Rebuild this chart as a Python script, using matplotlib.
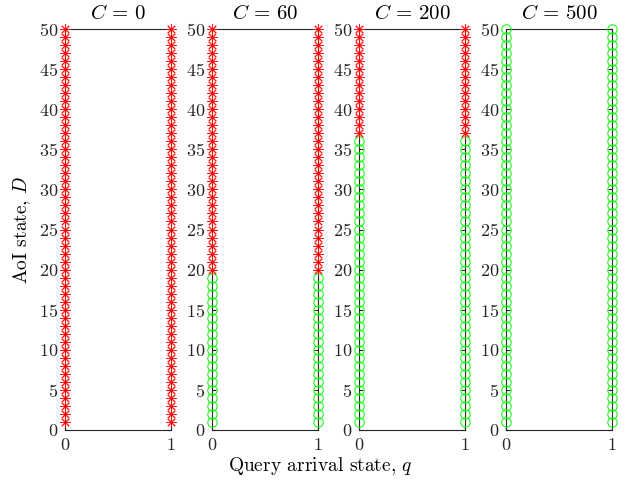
import numpy as np
import matplotlib.pyplot as plt

plt.rcParams["font.family"] = "serif"
plt.rcParams["font.serif"] = ["cmr10", "DejaVu Serif"]
plt.rcParams["mathtext.fontset"] = "cm"
plt.rcParams["axes.formatter.use_mathtext"] = True

# cost values of the four panels
c_values = [0, 60, 200, 500]
# smallest AoI state at which an update is sent (51 = never)
update_from = [1, 20, 37, 51]
aoi_states = np.arange(1, 51)
query_states = [0, 1]

fig = plt.figure(figsize=(6.41, 4.82), dpi=100)
lefts = [65, 212, 359, 506]
axes = []
for i, (c, thr) in enumerate(zip(c_values, update_from)):
    ax = fig.add_axes([lefts[i] / 641, 52 / 482, 106 / 641, 401 / 482])
    axes.append(ax)
    for q in query_states:
        wait = aoi_states[aoi_states < thr]
        upd = aoi_states[aoi_states >= thr]
        ax.plot(np.full(len(wait), q), wait, linestyle="none", marker="o",
                markersize=6.8, markerfacecolor="none", markeredgecolor=(0, 1, 0),
                markeredgewidth=0.7, clip_on=False, zorder=3)
        ax.plot(np.full(len(upd), q), upd, linestyle="none", marker=(8, 2, 0),
                markersize=7.5, color="red", markeredgewidth=0.7, alpha=0.9,
                clip_on=False, zorder=3)
    ax.set_xlim(0, 1)
    ax.set_ylim(0, 50)
    ax.set_xticks([0, 1])
    ax.set_yticks(np.arange(0, 51, 5))
    ax.tick_params(direction="in", top=True, right=True, labelsize=13,
                   colors="#262626", length=3, pad=5)
    for s in ax.spines.values():
        s.set_color("#262626")
        s.set_linewidth(0.8)
    ax.set_title(r"$C\,=\,%d$" % c, fontsize=15, pad=7)

axes[0].set_ylabel(r"AoI state, $D$", fontsize=14)
fig.text(0.5, 0.033, r"Query arrival state, $q$", ha="center", va="center", fontsize=14)

fig.savefig("out.png", dpi=100)
